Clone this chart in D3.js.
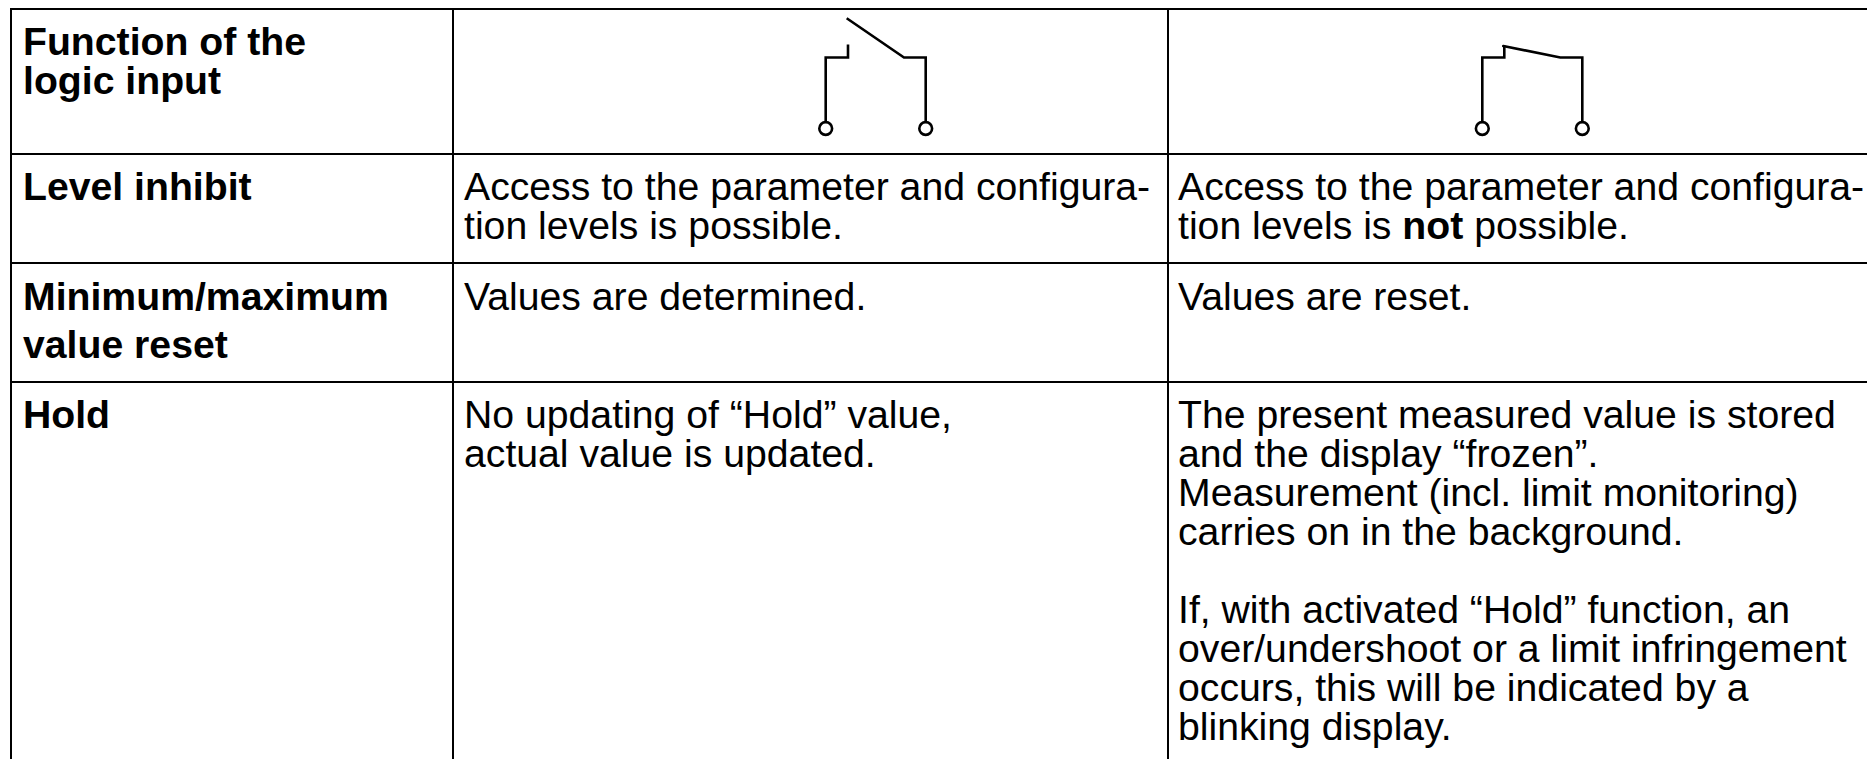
<!DOCTYPE html>
<html>
<head>
<meta charset="utf-8">
<script src="https://cdn.jsdelivr.net/npm/d3@7"></script>
<style>
  html, body { margin: 0; padding: 0; background: #fff; overflow: hidden; }
  text { font-family: "Liberation Sans", Arial, sans-serif; font-size: 39.2px; fill: #000; }
</style>
</head>
<body>
<div id="chart"></div>
<script>
// Table content, one list of lines per cell
const rowNames = ["header", "inhibit", "reset", "hold"];
const labelLines = [
  ["Function of the", "logic input"],
  ["Level inhibit"],
  ["Minimum/maximum", "value reset"],
  ["Hold"]
];
const openLines = [
  [],
  ["Access to the parameter and configura-", "tion levels is possible."],
  ["Values are determined."],
  ["No updating of “Hold” value,", "actual value is updated."]
];
// **word** marks bold text inside a line
const closedLines = [
  [],
  ["Access to the parameter and configura-", "tion levels is **not** possible."],
  ["Values are reset."],
  [
    "The present measured value is stored",
    "and the display “frozen”.",
    "Measurement (incl. limit monitoring)",
    "carries on in the background.",
    "",
    "If, with activated “Hold” function, an",
    "over/undershoot or a limit infringement",
    "occurs, this will be indicated by a",
    "blinking display."
  ]
];
const labelLeading = [39, 39, 48, 39];

// Switch symbols, in symbol units: 100 wide, y = 0 at the shoulder
const openSwitch = [
  [[0, 71], [0, 0], [22.3, 0], [22.3, -13]],
  [[21, -39.3], [78.3, 0], [100, 0], [100, 71]]
];
const closedSwitch = [
  [[0, 71], [0, 0], [22, 0], [22, -11]],
  [[21, -11.5], [78, 0], [100, 0], [100, 71]]
];
const terminals = [0, 100];

const width = 1867;
const height = 759;

const svg = d3.select("#chart")
  .append("svg")
  .attr("width", width)
  .attr("height", height)
  .style("display", "block");

// Scales
const columnX = d3.scaleOrdinal(["label", "open", "closed"], [11, 453, 1168]);
const rowLine = d3.scaleOrdinal(rowNames, [9, 154, 263, 382]);
const firstBaseline = d3.scaleOrdinal(rowNames, [55, 200, 310, 428]);

// Rules
const rules = svg.append("g").attr("stroke", "#000").attr("stroke-width", 2);
rules.selectAll(".h")
  .data(rowNames)
  .enter()
  .append("line")
  .attr("class", "h")
  .attr("x1", 10)
  .attr("x2", width)
  .attr("y1", d => rowLine(d))
  .attr("y2", d => rowLine(d));
rules.selectAll(".v")
  .data(columnX.domain())
  .enter()
  .append("line")
  .attr("class", "v")
  .attr("x1", d => columnX(d))
  .attr("x2", d => columnX(d))
  .attr("y1", 8)
  .attr("y2", height);

// Cell text
function drawCell(col, padX, row, lines, leading) {
  const text = svg.append("text").attr("font-weight", col === "label" ? "bold" : null);
  lines.forEach((line, i) => {
    if (!line) return;
    const y = firstBaseline(row) + i * leading;
    line.split("**").forEach((part, j) => {
      const span = text.append("tspan").text(part).attr("font-weight", j % 2 ? "bold" : null);
      if (j === 0) span.attr("x", columnX(col) + padX).attr("y", y);
    });
  });
}
rowNames.forEach((row, i) => {
  drawCell("label", 12, row, labelLines[i], labelLeading[i]);
  drawCell("open", 11, row, openLines[i], 39);
  drawCell("closed", 10, row, closedLines[i], 39);
});

// Switch symbols
function drawSwitch(paths, left, cap) {
  const x = d3.scaleLinear().domain([0, 100]).range([left, left + 100]);
  const y = d3.scaleLinear().domain([0, 71]).range([57.5, 128.5]);
  const line = d3.line().x(d => x(d[0])).y(d => y(d[1]));
  const g = svg.append("g")
    .attr("fill", "none")
    .attr("stroke", "#000")
    .attr("stroke-width", 2.6)
    .attr("stroke-linecap", cap);
  g.selectAll("path")
    .data(paths)
    .enter()
    .append("path")
    .attr("d", line);
  g.selectAll("circle")
    .data(terminals)
    .enter()
    .append("circle")
    .attr("cx", d => x(d))
    .attr("cy", y(71))
    .attr("r", 6.4)
    .attr("fill", "#fff");
}
drawSwitch(openSwitch, 825.7, "butt");
drawSwitch(closedSwitch, 1482.3, "round");
</script>
</body>
</html>
